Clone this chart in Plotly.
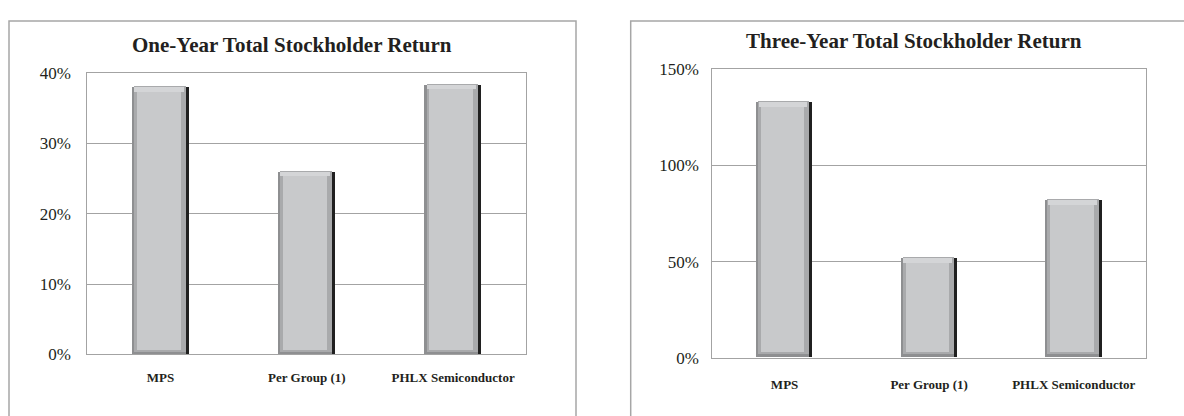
import plotly.graph_objects as go

categories = ["MPS", "Per Group (1)", "PHLX Semiconductor"]
one_year = [38.0, 26.0, 38.35]
three_year = [132.8, 51.5, 81.8]
one_year_ticks = [0, 10, 20, 30, 40]
three_year_ticks = [0, 50, 100, 150]
titles = ["One-Year Total Stockholder Return", "Three-Year Total Stockholder Return"]

W, H = 1184, 416
TEXT = "#231f20"
GRID = "#a3a3a3"
SERIF = "Liberation Serif, Times New Roman, serif"

fig = go.Figure()

# panel geometry in pixels: (x0, x1, ytop, ybottom)
panels = [
    dict(px=(87.3, 526.3), py=(66.7, 362.0), vals=one_year, ticks=one_year_ticks,
         rng=[0, 40], xa="x", ya="y", title=titles[0], tx=292, ty=37.5, stand=12, xstand=11),
    dict(px=(712.3, 1146.0), py=(63.3, 365.3), vals=three_year, ticks=three_year_ticks,
         rng=[0, 150], xa="x2", ya="y2", title=titles[1], tx=914, ty=33.5, stand=9, xstand=15),
]

BW = 0.39  # bar width (category units)
for p in panels:
    plot_w = p["px"][1] - p["px"][0]
    plot_h = p["py"][1] - p["py"][0]
    cat_px = plot_w / len(categories)
    bx = 5.0 / cat_px                 # bevel width in category units
    strip = 3.0 / cat_px              # dark right edge
    by = 5.0 * (p["rng"][1] - p["rng"][0]) / plot_h  # bevel height in data units
    vals = p["vals"]
    common = dict(x=categories, xaxis=p["xa"], yaxis=p["ya"], showlegend=False,
                  hoverinfo="skip", marker_line_width=0)
    # dark outer edge
    fig.add_trace(go.Bar(y=vals, width=BW, offset=-BW / 2, marker_color="#202020", **common))
    # mid-grey bevel (left / bottom)
    fig.add_trace(go.Bar(y=vals, width=BW - strip, offset=-BW / 2, marker_color="#8e8f91", **common))
    # left lighter bevel band
    fig.add_trace(go.Bar(y=[v - by * 0.4 for v in vals], base=[by * 0.6] * len(vals),
                         width=BW - strip - bx * 0.45, offset=-BW / 2 + bx * 0.45,
                         marker_color="#a9aaac", **common))
    # top highlight bevel
    fig.add_trace(go.Bar(y=[by] * len(vals), base=[v - by for v in vals],
                         width=BW - strip - bx * 0.9, offset=-BW / 2 + bx * 0.5,
                         marker_color="#d4d5d7", **common))
    # face
    fig.add_trace(go.Bar(y=[v - 2 * by for v in vals], base=[by] * len(vals),
                         width=BW - strip - 2 * bx, offset=-BW / 2 + bx,
                         marker_color="#c8c9cb", **common))

    xdom = [p["px"][0] / W, p["px"][1] / W]
    ydom = [(H - p["py"][1]) / H, (H - p["py"][0]) / H]
    xkey = "xaxis" if p["xa"] == "x" else "xaxis2"
    ykey = "yaxis" if p["ya"] == "y" else "yaxis2"
    fig.update_layout(**{
        xkey: dict(domain=xdom, anchor=p["ya"], type="category", showgrid=False,
                   showline=True, mirror=True, linecolor=GRID, linewidth=1.2,
                   ticks="", ticklabelstandoff=p["xstand"],
                   tickfont=dict(family=SERIF, size=13, color=TEXT, weight="bold"),
                   fixedrange=True),
        ykey: dict(domain=ydom, anchor=p["xa"], range=p["rng"], tickmode="array",
                   tickvals=p["ticks"], ticktext=[f"{t}%" for t in p["ticks"]],
                   showgrid=True, gridcolor=GRID, gridwidth=1.2,
                   showline=True, mirror=True, linecolor=GRID, linewidth=1.2,
                   zeroline=False, ticks="", ticklabelstandoff=p["stand"],
                   tickfont=dict(family=SERIF, size=17, color=TEXT),
                   fixedrange=True),
    })
    fig.add_annotation(text="<b>" + p["title"] + "</b>", xref="paper", yref="paper",
                       x=p["tx"] / W, y=(H - p["ty"]) / H, xanchor="center", yanchor="middle",
                       showarrow=False, font=dict(family=SERIF, size=21, color=TEXT))

# outer frames around each chart
fig.add_shape(type="rect", xref="paper", yref="paper", x0=9 / W, x1=576 / W,
              y0=-0.05, y1=(H - 12.7) / H, line=dict(color="#a6a6a6", width=1.5), layer="below")
fig.add_shape(type="rect", xref="paper", yref="paper", x0=630.7 / W, x1=1.05,
              y0=-0.05, y1=(H - 12.7) / H, line=dict(color="#a6a6a6", width=1.5), layer="below")

fig.update_layout(width=W, height=H, margin=dict(l=0, r=0, t=0, b=0),
                  barmode="overlay", paper_bgcolor="white", plot_bgcolor="white",
                  bargap=0)

fig.write_html("out.html", config={"displayModeBar": False},
               post_script=["document.body.style.margin='0';document.body.style.padding='0';"
                            "document.body.style.overflow='hidden';"])
